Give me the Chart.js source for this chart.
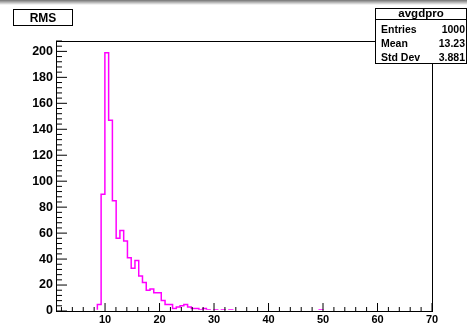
<!DOCTYPE html>
<html>
<head>
<meta charset="utf-8">
<script src="https://cdn.jsdelivr.net/npm/chart.js@4.4.1/dist/chart.umd.min.js"></script>
<style>
body { margin: 0; background: #fff; }
</style>
</head>
<body>
<canvas id="histo" width="467" height="326"></canvas>
<script>
// avgdpro histogram, 100 bins between xMin and xMax
const xMin = 1;
const xMax = 70;
const binCounts = [
    0, 0, 0, 0, 0, 0, 0, 0, 0, 0,
    0, 5, 90, 199, 147, 85, 56, 62, 54, 41,
    33, 39, 27, 22, 16, 17, 14, 14, 8, 5,
    5, 2, 3, 4, 5, 3, 2, 2, 1, 2,
    1, 0, 1, 0, 1, 0, 1, 0, 0, 0,
    0, 0, 0, 0, 0, 0, 0, 0, 0, 0,
    0, 0, 0, 0, 0, 0, 0, 0, 0, 0,
    1, 0, 0, 0, 0, 0, 0, 0, 0, 0,
    0, 0, 0, 0, 0, 0, 0, 0, 0, 0,
    0, 0, 0, 0, 0, 0, 0, 0, 0, 0
];
const xTickLabels = [10, 20, 30, 40, 50, 60, 70];
const yTickLabels = [0, 20, 40, 60, 80, 100, 120, 140, 160, 180, 200];
const titleText = "RMS";
const histName = "avgdpro";
const statNames = ["Entries", "Mean", "Std Dev"];
const statValues = ["1000", "13.23", "3.881"];

const binWidth = (xMax - xMin) / binCounts.length;
let points = [];
for (let i = 0; i < binCounts.length; i++) {
    points.push({x: xMin + i * binWidth, y: binCounts[i]});
}
points.push({x: xMax, y: binCounts[binCounts.length - 1]});

const labelFont = 'Liberation Sans';

// ROOT style frame, inward ticks, title and stats boxes
const rootFrame = {
    id: 'rootFrame',
    beforeDraw(chart) {
        const ctx = chart.ctx;
        ctx.save();
        ctx.fillStyle = '#fff';
        ctx.fillRect(0, 0, chart.width, chart.height);
        const g = ctx.createLinearGradient(0, 0, 0, 5);
        g.addColorStop(0, 'rgba(0,0,0,0.55)');
        g.addColorStop(1, 'rgba(0,0,0,0)');
        ctx.fillStyle = g;
        ctx.fillRect(0, 0, chart.width, 5);
        ctx.restore();
    },
    afterDraw(chart) {
        const ctx = chart.ctx;
        const a = chart.chartArea;
        const xs = chart.scales.x;
        const ys = chart.scales.y;
        ctx.save();
        ctx.strokeStyle = '#000';
        ctx.lineWidth = 1;

        ctx.beginPath();
        for (let v = 0; v <= ys.max; v += 4) {
            const py = ys.getPixelForValue(v);
            const len = (v % 20 == 0) ? 11 : 6;
            ctx.moveTo(a.left, py);
            ctx.lineTo(a.left + len, py);
        }
        for (let v = 2; v <= xs.max; v += 2) {
            const px = xs.getPixelForValue(v);
            const len = (v % 10 == 0) ? 8 : 4;
            ctx.moveTo(px, a.bottom);
            ctx.lineTo(px, a.bottom - len);
        }
        ctx.stroke();

        ctx.strokeRect(Math.round(a.left) + 0.5, Math.round(a.top) + 0.5,
            Math.round(a.right - a.left), Math.round(a.bottom - a.top));

        // title box
        ctx.fillStyle = '#fff';
        ctx.fillRect(13.5, 9.5, 59, 16);
        ctx.strokeRect(13.5, 9.5, 59, 16);
        ctx.fillStyle = '#000';
        ctx.font = 'bold 12px ' + labelFont;
        ctx.textAlign = 'center';
        ctx.textBaseline = 'alphabetic';
        ctx.fillText(titleText, 43, 21.5);

        // stats box
        ctx.fillStyle = '#fff';
        ctx.fillRect(375.5, 8.5, 91, 55);
        ctx.strokeRect(375.5, 8.5, 91, 55);
        ctx.beginPath();
        ctx.moveTo(375.5, 19.5);
        ctx.lineTo(466.5, 19.5);
        ctx.stroke();
        ctx.fillStyle = '#000';
        ctx.font = 'bold 11.5px ' + labelFont;
        ctx.textAlign = 'center';
        ctx.fillText(histName, 421, 16.5);
        ctx.font = 'bold 10.5px ' + labelFont;
        for (let i = 0; i < statNames.length; i++) {
            const by = 32.5 + i * 14;
            ctx.textAlign = 'left';
            ctx.fillText(statNames[i], 381, by);
            ctx.textAlign = 'right';
            ctx.fillText(statValues[i], 465, by);
        }
        ctx.restore();
    }
};

new Chart(document.getElementById('histo'), {
    type: 'line',
    data: {
        datasets: [{
            data: points,
            stepped: true,
            borderColor: '#ff00ff',
            borderWidth: 1.5,
            pointRadius: 0,
            fill: false,
            clip: {left: 0, top: 0, right: 0, bottom: -1.2}  // zero bins hide under the frame
        }]
    },
    options: {
        responsive: false,
        animation: false,
        devicePixelRatio: 1,
        layout: {
            padding: {top: 41, right: 35, left: 0, bottom: 0}
        },
        plugins: {
            legend: {display: false},
            tooltip: {enabled: false}
        },
        scales: {
            x: {
                type: 'linear',
                min: xMin,
                max: xMax,
                afterBuildTicks: function(s) { s.ticks = xTickLabels.map(v => ({value: v})); },
                afterFit: function(s) { s.height = 15; },
                grid: {display: false, drawTicks: false},
                border: {display: false},
                ticks: {
                    autoSkip: false,
                    maxRotation: 0,
                    padding: 2,
                    color: '#000',
                    font: {family: labelFont, weight: 'bold', size: 11}
                }
            },
            y: {
                min: 0,
                max: 208,
                afterBuildTicks: function(s) { s.ticks = yTickLabels.map(v => ({value: v})); },
                afterFit: function(s) { s.width = 56; },
                grid: {display: false, drawTicks: false},
                border: {display: false},
                ticks: {
                    autoSkip: false,
                    padding: 3,
                    color: '#000',
                    font: {family: labelFont, weight: 'bold', size: 12.5}
                }
            }
        }
    },
    plugins: [rootFrame]
});
</script>
</body>
</html>
